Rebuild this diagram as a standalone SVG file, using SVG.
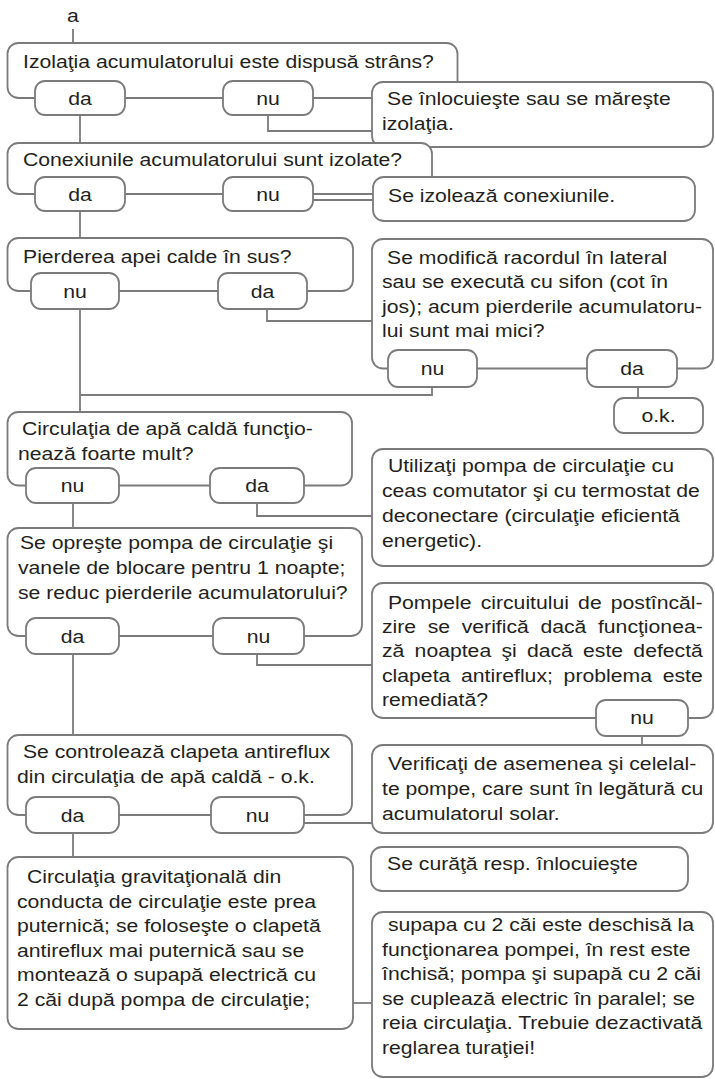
<svg xmlns="http://www.w3.org/2000/svg" width="715" height="1079" viewBox="0 0 715 1079">
<style>
  .box { fill:#ffffff; stroke:#7b7b7b; stroke-width:1.8; }
  .pill { fill:#ffffff; stroke:#7b7b7b; stroke-width:1.8; }
  .conn { fill:none; stroke:#7b7b7b; stroke-width:1.8; }
  text { font-family:"Liberation Sans", Arial, Helvetica, sans-serif; font-size:18.5px; fill:#231f20; }
  .c { text-anchor:middle; }
</style>
<rect width="715" height="1079" fill="#ffffff"/>

<g id="connectors">
  <path class="conn" d="M73 29 V43"/>
  <path class="conn" d="M80 115 V143"/>
  <path class="conn" d="M268 115 V131 H372"/>
  <path class="conn" d="M312 200 H373"/>
  <path class="conn" d="M80 211 V238"/>
  <path class="conn" d="M80 309 V412"/>
  <path class="conn" d="M80 395 H432 V387"/>
  <path class="conn" d="M267 309 V321 H372"/>
  <path class="conn" d="M638 387 V398"/>
  <path class="conn" d="M73 503 V528"/>
  <path class="conn" d="M257 503 V516 H372"/>
  <path class="conn" d="M73 654 V735"/>
  <path class="conn" d="M257 654 V665 H372"/>
  <path class="conn" d="M642 736 V745"/>
  <path class="conn" d="M303 823 H372"/>
  <path class="conn" d="M73 833 V857"/>
  <path class="conn" d="M353 1003 H372"/>
</g>

<g id="start">
  <text class="c" transform="matrix(1.146 0 0 1 73 22)">a</text>
</g>

<g id="q1">
  <rect class="box" x="7.5" y="43" width="450" height="55" rx="11"/>
  <text transform="matrix(1.146 0 0 1 23 68)">Izolaţia acumulatorului este dispusă strâns?</text>
  <rect class="pill" x="35" y="81" width="90" height="34" rx="10"/>
  <text class="c" transform="matrix(1.146 0 0 1 80 104.5)">da</text>
  <rect class="pill" x="223" y="81" width="90" height="34" rx="10"/>
  <text class="c" transform="matrix(1.146 0 0 1 268 104.5)">nu</text>
</g>

<g id="a1">
  <rect class="box" x="372" y="82" width="341" height="65" rx="11"/>
  <text transform="matrix(1.146 0 0 1 387 105)">Se înlocuieşte sau se măreşte<tspan x="-4.4" y="25.5">izolaţia.</tspan></text>
</g>

<g id="q2">
  <rect class="box" x="7.5" y="143" width="424.5" height="51" rx="11"/>
  <text transform="matrix(1.146 0 0 1 23 166)">Conexiunile acumulatorului sunt izolate?</text>
  <rect class="pill" x="35" y="177" width="90" height="34" rx="10"/>
  <text class="c" transform="matrix(1.146 0 0 1 80 200.5)">da</text>
  <rect class="pill" x="223" y="177" width="90" height="34" rx="10"/>
  <text class="c" transform="matrix(1.146 0 0 1 268 200.5)">nu</text>
</g>

<g id="a2">
  <rect class="box" x="373" y="177" width="322" height="44" rx="11"/>
  <text transform="matrix(1.146 0 0 1 388 202)">Se izolează conexiunile.</text>
</g>

<g id="q3">
  <rect class="box" x="7.5" y="238" width="345.5" height="53" rx="11"/>
  <text transform="matrix(1.146 0 0 1 23 263)">Pierderea apei calde în sus?</text>
  <rect class="pill" x="31" y="273" width="88" height="36" rx="10"/>
  <text class="c" transform="matrix(1.146 0 0 1 75 297.5)">nu</text>
  <rect class="pill" x="218" y="273" width="89" height="36" rx="10"/>
  <text class="c" transform="matrix(1.146 0 0 1 262.5 297.5)">da</text>
</g>

<g id="q3b">
  <rect class="box" x="372" y="239" width="341" height="129.5" rx="11"/>
  <text transform="matrix(1.146 0 0 1 382 264)"><tspan x="4.4" y="0">Se modifică racordul în lateral</tspan><tspan x="0" y="24.5">sau se execută cu sifon (cot în</tspan><tspan x="0" y="49">jos); acum pierderile acumulatoru-</tspan><tspan x="0" y="73.5">lui sunt mai mici?</tspan></text>
  <rect class="pill" x="388" y="350" width="89" height="37" rx="10"/>
  <text class="c" transform="matrix(1.146 0 0 1 432.5 375)">nu</text>
  <rect class="pill" x="587" y="350" width="90" height="37" rx="10"/>
  <text class="c" transform="matrix(1.146 0 0 1 632 375)">da</text>
</g>

<g id="ok">
  <rect class="pill" x="614" y="398" width="89" height="35" rx="10"/>
  <text class="c" transform="matrix(1.146 0 0 1 658.5 422)">o.k.</text>
</g>

<g id="q4">
  <rect class="box" x="7.5" y="412" width="344.5" height="73.5" rx="11"/>
  <text transform="matrix(1.146 0 0 1 18 435)"><tspan x="3.5" y="0">Circulaţia de apă caldă funcţio-</tspan><tspan x="0" y="25">nează foarte mult?</tspan></text>
  <rect class="pill" x="26" y="468" width="93" height="35" rx="10"/>
  <text class="c" transform="matrix(1.146 0 0 1 72.5 492)">nu</text>
  <rect class="pill" x="210" y="468" width="94" height="35" rx="10"/>
  <text class="c" transform="matrix(1.146 0 0 1 257 492)">da</text>
</g>

<g id="a4">
  <rect class="box" x="372" y="449" width="341" height="117" rx="11"/>
  <text transform="matrix(1.146 0 0 1 382 472)"><tspan x="5.2" y="0">Utilizaţi pompa de circulaţie cu</tspan><tspan x="0" y="25">ceas comutator şi cu termostat de</tspan><tspan x="0" y="50">deconectare (circulaţie eficientă</tspan><tspan x="0" y="75">energetic).</tspan></text>
</g>

<g id="q5">
  <rect class="box" x="7.5" y="528" width="354.5" height="108" rx="11"/>
  <text transform="matrix(1.146 0 0 1 18 549)"><tspan x="1.7" y="0">Se opreşte pompa de circulaţie şi</tspan><tspan x="0" y="25">vanele de blocare pentru 1 noapte;</tspan><tspan x="0" y="50">se reduc pierderile acumulatorului?</tspan></text>
  <rect class="pill" x="26" y="618" width="93" height="36" rx="10"/>
  <text class="c" transform="matrix(1.146 0 0 1 72.5 642.5)">da</text>
  <rect class="pill" x="213" y="618" width="91" height="36" rx="10"/>
  <text class="c" transform="matrix(1.146 0 0 1 258.5 642.5)">nu</text>
</g>

<g id="q5b">
  <rect class="box" x="372" y="583" width="341" height="135" rx="11"/>
  <text transform="matrix(1.146 0 0 1 382 609)"><tspan x="5.2" y="0" word-spacing="2.85">Pompele circuitului de postîncăl-</tspan><tspan x="0" y="24.3" word-spacing="5">zire se verifică dacă funcţionea-</tspan><tspan x="0" y="48.5" word-spacing="3.8">ză noaptea şi dacă este defectă</tspan><tspan x="0" y="73" word-spacing="4.25">clapeta antireflux; problema este</tspan><tspan x="0" y="97.2">remediată?</tspan></text>
  <rect class="pill" x="596" y="700" width="92" height="36" rx="10"/>
  <text class="c" transform="matrix(1.146 0 0 1 642 724)">nu</text>
</g>

<g id="a5">
  <rect class="box" x="372" y="745" width="341" height="88" rx="11"/>
  <text transform="matrix(1.146 0 0 1 382 770)"><tspan x="5.2" y="0">Verificaţi de asemenea şi celelal-</tspan><tspan x="0" y="25">te pompe, care sunt în legătură cu</tspan><tspan x="0" y="50">acumulatorul solar.</tspan></text>
</g>

<g id="q6">
  <rect class="box" x="7.5" y="735" width="344.5" height="80" rx="11"/>
  <text transform="matrix(1.146 0 0 1 17 758)"><tspan x="5.2" y="0">Se controlează clapeta antireflux</tspan><tspan x="0" y="25">din circulaţia de apă caldă - o.k.</tspan></text>
  <rect class="pill" x="26" y="797" width="93" height="36" rx="10"/>
  <text class="c" transform="matrix(1.146 0 0 1 72.5 821.5)">da</text>
  <rect class="pill" x="211" y="797" width="93" height="36" rx="10"/>
  <text class="c" transform="matrix(1.146 0 0 1 257.5 821.5)">nu</text>
</g>

<g id="a6">
  <rect class="box" x="7.5" y="857" width="345.5" height="172" rx="11"/>
  <text transform="matrix(1.146 0 0 1 17 883)"><tspan x="8.7" y="0">Circulaţia gravitaţională din</tspan><tspan x="0" y="24.6">conducta de circulaţie este prea</tspan><tspan x="0" y="49.2">puternică; se foloseşte o clapetă</tspan><tspan x="0" y="73.8">antireflux mai puternică sau se</tspan><tspan x="0" y="98.4">montează o supapă electrică cu</tspan><tspan x="0" y="123">2 căi după pompa de circulaţie;</tspan></text>
</g>

<g id="a7">
  <rect class="box" x="371" y="847" width="317" height="44" rx="11"/>
  <text transform="matrix(1.146 0 0 1 387 870)">Se curăţă resp. înlocuieşte</text>
</g>

<g id="a8">
  <rect class="box" x="372" y="912" width="341" height="165" rx="11"/>
  <text transform="matrix(1.146 0 0 1 382 931)"><tspan x="5.2" y="0">supapa cu 2 căi este deschisă la</tspan><tspan x="0" y="24.6">funcţionarea pompei, în rest este</tspan><tspan x="0" y="49.2">închisă; pompa şi supapă cu 2 căi</tspan><tspan x="0" y="73.8">se cuplează electric în paralel; se</tspan><tspan x="0" y="98.4">reia circulaţia. Trebuie dezactivată</tspan><tspan x="0" y="123">reglarea turaţiei!</tspan></text>
</g>
</svg>
